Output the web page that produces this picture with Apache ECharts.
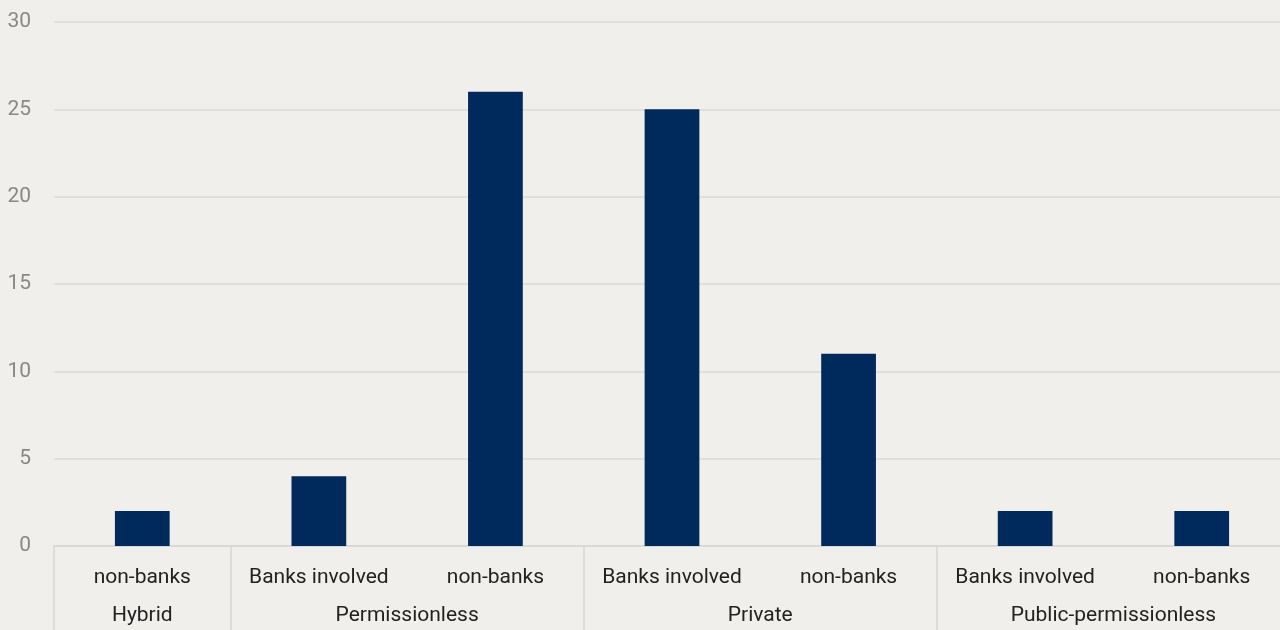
<!DOCTYPE html>
<html><head><meta charset="utf-8">
<script src="https://cdn.jsdelivr.net/npm/echarts@6/dist/echarts.min.js"></script>
<style>html,body{margin:0;padding:0;background:#f0efeb}#c{width:1280px;height:630px}</style>
</head><body><div id="c"></div>
<script>
const subCategories = ['non-banks','Banks involved','non-banks','Banks involved','non-banks','Banks involved','non-banks'];
const values = [2, 4, 26, 25, 11, 2, 2];
const groups = ['Hybrid','Permissionless','Private','Public-permissionless'];
const groupSpans = [1, 2, 2, 2];
const yTicks = [0, 5, 10, 15, 20, 25, 30];

const bounds = [0]; const centers = [];
groupSpans.forEach((s, i) => { centers.push(bounds[i] + s / 2); bounds.push(bounds[i] + s); });

const chart = echarts.init(document.getElementById('c'));
chart.setOption({
  backgroundColor: '#f0efeb',
  textStyle: { fontFamily: 'Roboto' },
  grid: { left: 54, width: 1236, top: 22, height: 524, outerBoundsMode: 'none', containLabel: false },
  xAxis: [{
    type: 'category', data: subCategories, position: 'bottom',
    axisLine: { show: true, lineStyle: { color: '#d6d6d6', width: 1.5 } },
    axisTick: { show: false },
    axisLabel: { color: '#222', fontSize: 21, margin: 21, fontFamily: 'Roboto', interval: 0 }
  }, {
    type: 'value', min: 0, max: subCategories.length, position: 'bottom',
    splitLine: { show: false },
    axisLine: { show: false },
    axisTick: { show: true, customValues: bounds.slice(0, -1), length: 84, inside: false, lineStyle: { color: '#d6d6d6', width: 1.5 } },
    axisLabel: { customValues: centers, color: '#222', fontSize: 21, margin: 59, fontFamily: 'Roboto',
      formatter: v => { const i = centers.indexOf(v); return i >= 0 ? groups[i] : ''; } }
  }],
  yAxis: {
    type: 'value', min: yTicks[0], max: yTicks[yTicks.length - 1], interval: 5,
    axisLine: { show: false }, axisTick: { show: false },
    splitLine: { lineStyle: { color: '#dadada', width: 1.5 } },
    axisLabel: { color: '#888', fontSize: 21, margin: 23, fontFamily: 'Roboto' }
  },
  series: [{
    type: 'bar', data: values, xAxisIndex: 0, barWidth: '31%',
    itemStyle: { color: '#002a5c' }
  }]
});
</script></body></html>
